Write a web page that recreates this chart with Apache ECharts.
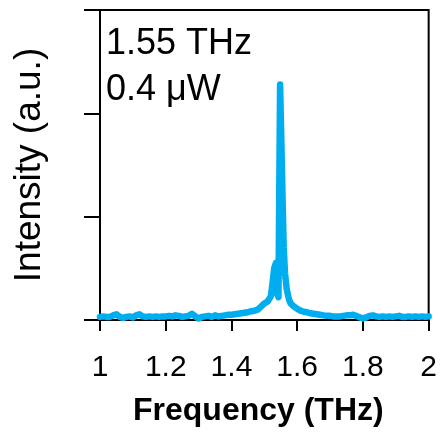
<!DOCTYPE html>
<html><head><meta charset="utf-8">
<script src="https://cdn.jsdelivr.net/npm/echarts@6/dist/echarts.min.js"></script>
<style>html,body{margin:0;padding:0;background:#fff}#c{width:440px;height:432px}</style>
</head><body><div id="c"></div>
<script>
const freq = [1.00,1.01,1.02,1.03,1.04,1.05,1.06,1.07,1.08,1.09,1.10,1.11,1.12,1.13,1.14,1.15,1.16,1.17,1.18,1.19,
1.20,1.21,1.22,1.23,1.24,1.25,1.26,1.27,1.28,1.29,1.30,1.31,1.32,1.33,1.34,1.35,1.36,1.37,1.38,1.39,
1.40,1.41,1.42,1.43,1.44,1.45,1.46,1.47,1.48,1.49,1.50,1.51,1.52,1.525,1.53,1.535,1.54,1.543,1.546,1.548,
1.552,1.556,1.559,1.563,1.568,1.575,1.58,1.59,1.60,1.61,1.62,1.63,1.64,1.65,1.66,1.67,1.68,1.69,1.70,1.71,1.72,
1.73,1.74,1.75,1.76,1.77,1.78,1.79,1.80,1.81,1.82,1.83,1.84,1.85,1.86,1.87,1.88,1.89,1.90,1.91,1.92,
1.93,1.94,1.95,1.96,1.97,1.98,1.99,2.00];
const intensity = [0.03,0.035,0.03,0.03,0.045,0.055,0.03,0.02,0.03,0.035,0.025,0.045,0.055,0.035,0.03,0.035,0.03,0.035,0.03,0.035,
0.035,0.04,0.035,0.045,0.04,0.03,0.035,0.04,0.06,0.035,0.015,0.03,0.035,0.04,0.03,0.045,0.035,0.04,0.045,0.05,
0.05,0.055,0.06,0.065,0.07,0.075,0.085,0.09,0.1,0.13,0.16,0.18,0.23,0.36,0.5,0.55,0.25,0.22,1.5,2.28,
1.7,1.1,0.7,0.45,0.3,0.2,0.16,0.13,0.11,0.09,0.08,0.075,0.065,0.06,0.055,0.05,0.045,0.04,0.04,0.035,0.035,
0.035,0.04,0.045,0.045,0.05,0.04,0.025,0.015,0.025,0.04,0.045,0.035,0.03,0.035,0.03,0.035,0.03,0.035,0.04,0.03,
0.03,0.035,0.03,0.035,0.03,0.035,0.03,0.035];
const xTicks = {min:1, max:2, interval:0.2};
const yTicks = {min:0, max:3, interval:1};
const labels = ['1.55 THz', '0.4 μW'];

const chart = echarts.init(document.getElementById('c'), null, {renderer:'canvas'});
const font = 'Liberation Sans, Arial, sans-serif';
chart.setOption({
  animation:false,
  grid:{left:100, right:11, top:10, height:311.5, show:true, borderColor:'#000', borderWidth:2},
  xAxis:{type:'value', min:xTicks.min, max:xTicks.max, interval:xTicks.interval,
    name:'Frequency (THz)', nameLocation:'middle', nameGap:75,
    nameTextStyle:{fontFamily:font, fontSize:32, fontWeight:'bold', color:'#000', padding:[0,12,0,0]},
    axisLine:{lineStyle:{color:'#000', width:2}},
    axisTick:{inside:false, length:11, lineStyle:{color:'#000', width:2}},
    axisLabel:{fontFamily:font, fontSize:30, color:'#000', margin:33},
    splitLine:{show:false}},
  yAxis:{type:'value', min:yTicks.min, max:yTicks.max, interval:yTicks.interval,
    name:'Intensity (a.u.)', nameLocation:'middle', nameGap:52,
    nameTextStyle:{fontFamily:font, fontSize:37, color:'#000'},
    axisLine:{show:true, lineStyle:{color:'#000', width:2}},
    axisTick:{show:true, inside:false, length:16, lineStyle:{color:'#000', width:2}},
    axisLabel:{show:false},
    splitLine:{show:false}},
  graphic:[
    {type:'text', left:106, top:26, style:{text:labels[0], font:'36px '+font, fill:'#000'}},
    {type:'text', left:106, top:72, style:{text:labels[1], font:'36px '+font, fill:'#000'}}
  ],
  series:[{type:'line', data:freq.map((f,i)=>[f,intensity[i]]), showSymbol:false,
    lineStyle:{color:'#00AEEF', width:6.5, join:'round', cap:'round'}}]
});
</script></body></html>
